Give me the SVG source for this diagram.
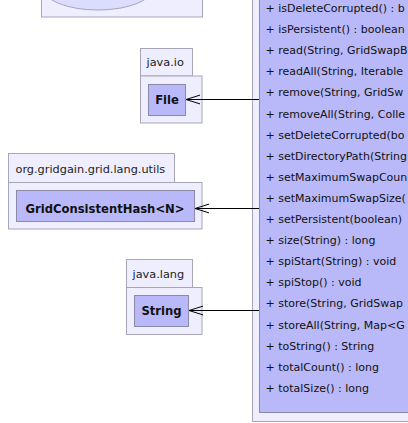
<svg xmlns="http://www.w3.org/2000/svg" width="408" height="423" viewBox="0 0 408 423">
<style>
.pkg{fill:#eeeeff;stroke:#a6a6b8;stroke-width:1}
.cls{fill:#b9b9f9;stroke:#8a8aa8;stroke-width:1}
.lbl{font-family:"DejaVu Sans","Liberation Sans",sans-serif;font-size:11.3px;fill:#222}
.name{font-family:"DejaVu Sans","Liberation Sans",sans-serif;font-size:11.6px;font-weight:bold;fill:#111;text-anchor:middle}
.m{font-family:"DejaVu Sans","Liberation Sans",sans-serif;font-size:11px;fill:#111}
.edge{fill:none;stroke:#000;stroke-width:1}
</style>
<defs>
<marker id="open" viewBox="-15 -6 16 12" refX="0" refY="0" markerWidth="16" markerHeight="12" markerUnits="userSpaceOnUse" orient="auto">
<path d="M-14,-4.4 L0,0 L-14,4.4" fill="none" stroke="#000" stroke-width="1"/>
</marker>
</defs>
<rect width="408" height="423" fill="#fff"/>
<g id="topPackage">
<rect class="pkg" x="41.5" y="-10" width="161" height="27"/>
<ellipse cx="98" cy="-12" rx="55" ry="22" fill="#dcdcff" stroke="#a6a6b8"/>
</g>
<g id="pkg-java-io">
<rect class="pkg" x="140.5" y="48.5" width="52" height="27.5"/>
<rect class="pkg" x="140.5" y="76" width="61.5" height="47"/>
<text class="lbl" x="146.5" y="65.5">java.io</text>
</g>
<g id="File">
<rect class="cls" x="148.5" y="84.5" width="37" height="31"/>
<text class="name" x="167" y="103.5">File</text>
</g>
<g id="pkg-utils">
<rect class="pkg" x="8.5" y="153.5" width="166" height="29"/>
<rect class="pkg" x="8.5" y="182.5" width="193.5" height="46.5"/>
<text class="lbl" x="15.5" y="172.5">org.gridgain.grid.lang.utils</text>
</g>
<g id="GridConsistentHash">
<rect class="cls" x="16.5" y="190.5" width="178" height="31"/>
<text class="name" x="105" y="213">GridConsistentHash&lt;N&gt;</text>
</g>
<g id="pkg-java-lang">
<rect class="pkg" x="126.5" y="259.5" width="66" height="28"/>
<rect class="pkg" x="126.5" y="287.5" width="75.5" height="47"/>
<text class="lbl" x="132.5" y="277.5">java.lang</text>
</g>
<g id="String">
<rect class="cls" x="134.5" y="295.5" width="54" height="31"/>
<text class="name" x="161.5" y="315">String</text>
</g>
<g id="mainClass">
<rect class="pkg" x="252.5" y="-20" width="170" height="441.5"/>
<rect class="cls" x="259.5" y="-20" width="160" height="432.5"/>
<text class="m" x="265.5" y="12">+ isDeleteCorrupted() : b</text>
<text class="m" x="265.5" y="33.1">+ isPersistent() : boolean</text>
<text class="m" x="265.5" y="54.2">+ read(String, GridSwapB</text>
<text class="m" x="265.5" y="75.3">+ readAll(String, Iterable</text>
<text class="m" x="265.5" y="96.4">+ remove(String, GridSw</text>
<text class="m" x="265.5" y="117.5">+ removeAll(String, Colle</text>
<text class="m" x="265.5" y="138.6">+ setDeleteCorrupted(bo</text>
<text class="m" x="265.5" y="159.7">+ setDirectoryPath(String</text>
<text class="m" x="265.5" y="180.8">+ setMaximumSwapCoun</text>
<text class="m" x="265.5" y="201.9">+ setMaximumSwapSize(</text>
<text class="m" x="265.5" y="223">+ setPersistent(boolean)</text>
<text class="m" x="265.5" y="244.1">+ size(String) : long</text>
<text class="m" x="265.5" y="265.2">+ spiStart(String) : void</text>
<text class="m" x="265.5" y="286.3">+ spiStop() : void</text>
<text class="m" x="265.5" y="307.4">+ store(String, GridSwap</text>
<text class="m" x="265.5" y="328.5">+ storeAll(String, Map&lt;G</text>
<text class="m" x="265.5" y="349.6">+ toString() : String</text>
<text class="m" x="265.5" y="370.7">+ totalCount() : long</text>
<text class="m" x="265.5" y="391.8">+ totalSize() : long</text>
</g>
<g id="connectors">
<path class="edge" d="M259,99.5 L186,99.5" marker-end="url(#open)"/>
<path class="edge" d="M259,208.5 L195,208.5" marker-end="url(#open)"/>
<path class="edge" d="M259,310.5 L189,310.5" marker-end="url(#open)"/>
</g>
</svg>
